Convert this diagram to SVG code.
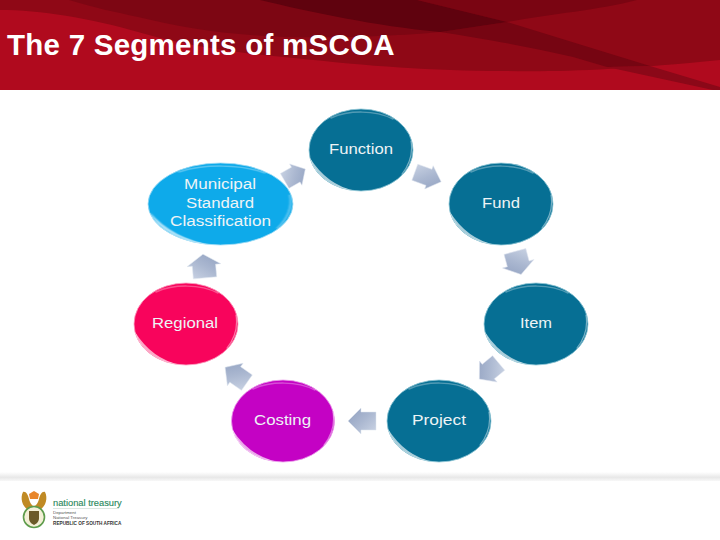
<svg xmlns="http://www.w3.org/2000/svg" width="720" height="540" viewBox="0 0 720 540">
<style>
.lbl{font-family:"Liberation Sans",Arial,sans-serif;font-size:14px;fill:#eef4f6;text-anchor:middle}
.rim{fill:none;stroke:#fff;stroke-linecap:round}
.cres{fill:#fff;fill-opacity:.65}
.arrow{fill:url(#arrowGrad);stroke:#dfe5ef;stroke-width:.5}
</style>
<defs>
<linearGradient id="arrowGrad" x1="0" y1="0" x2="1" y2="1"><stop offset="0" stop-color="#8f9fbf"/><stop offset=".5" stop-color="#aab7d0"/><stop offset="1" stop-color="#ccd5e5"/></linearGradient>
<linearGradient id="foot" x1="0" y1="0" x2="0" y2="1"><stop offset="0" stop-color="#fff"/><stop offset=".6" stop-color="#e8e8e8"/><stop offset="1" stop-color="#f8f8f8"/></linearGradient>
<filter id="soft" x="-20%" y="-20%" width="140%" height="140%"><feGaussianBlur stdDeviation=".6"/></filter>
<path id="arr" d="M-14 0L-1-13V-9H14V9H-1V13Z"/>
<g id="gloss">
<path class="cres" filter="url(#soft)" d="M-51 8A52 41 0 0 0-6 40.700Q-34 35-51 8Z"/>
<path class="rim" filter="url(#soft)" stroke-opacity=".3" stroke-width="1.500" d="M-30-32C-12-40 14-40 32-31"/>
<path class="rim" filter="url(#soft)" stroke-opacity=".45" stroke-width="1.200" d="M50-9C52 3 48 15 41 24"/>
</g>
</defs>
<rect width="720" height="540" fill="#fff"/>
<g id="header">
<rect width="720" height="90" fill="#b00a1e"/>
<path fill="#8f0816" d="M0 10C40 10 90 18 138 32C180 44 225 52 294 58C370 66 430 71 505 71C560 72 620 70 720 60V0H0Z"/>
<path fill="#7d0613" d="M69 0C95 8 115 12 138 17C180 27 225 35 285 37C340 38 400 36 440 32L507 22L417 0Z"/>
<path fill="#7a0512" d="M417 0H637C600 10 550 14 507 22Z"/>
<path fill="#760512" d="M440 32L507 22L650 66L607 67L573 57C530 47 480 38 440 32Z"/>
<path fill="#8b0818" d="M607 67L650 66L720 87V90H713Z"/>
<path fill="#5f020e" d="M260 0C310 12 375 26 440 32L507 22L417 0Z"/>
<text x="7" y="55" font-family="'Liberation Sans',Arial,sans-serif" font-size="29.500" font-weight="bold" letter-spacing=".25" fill="#fff">The 7 Segments of mSCOA</text>
</g>
<rect id="footer-band" y="472" width="720" height="9" fill="url(#foot)"/>
<g id="connectors">
<use href="#arr" class="arrow" transform="translate(428 177) rotate(200) scale(1 .95)"/>
<use href="#arr" class="arrow" transform="translate(518 263) rotate(255) scale(.85 1.250)"/>
<use href="#arr" class="arrow" transform="translate(489 371) rotate(320) scale(.9 1.050)"/>
<use href="#arr" class="arrow" transform="translate(362 421)"/>
<use href="#arr" class="arrow" transform="translate(236 375) rotate(35) scale(.95 1.050)"/>
<use href="#arr" class="arrow" transform="translate(204 266) rotate(85) scale(.85 1.300)"/>
<use href="#arr" class="arrow" transform="translate(295 175) rotate(150) scale(.85 .95)"/>
</g>
<g id="node-function"><ellipse cx="361" cy="150" rx="52" ry="41" fill="#066f94" stroke="#8fc6d6" stroke-width=".8"/><use href="#gloss" transform="translate(361 150)"/><text class="lbl" x="361" y="154" textLength="64" lengthAdjust="spacingAndGlyphs">Function</text></g>
<g id="node-fund"><ellipse cx="501" cy="204" rx="52" ry="41" fill="#066f94" stroke="#8fc6d6" stroke-width=".8"/><use href="#gloss" transform="translate(501 204)"/><text class="lbl" x="501" y="208" textLength="38" lengthAdjust="spacingAndGlyphs">Fund</text></g>
<g id="node-item"><ellipse cx="536" cy="324" rx="52" ry="41" fill="#066f94" stroke="#8fc6d6" stroke-width=".8"/><use href="#gloss" transform="translate(536 324)"/><text class="lbl" x="536" y="328" textLength="32" lengthAdjust="spacingAndGlyphs">Item</text></g>
<g id="node-project"><ellipse cx="439" cy="421" rx="52" ry="41" fill="#066f94" stroke="#8fc6d6" stroke-width=".8"/><use href="#gloss" transform="translate(439 421)"/><text class="lbl" x="439" y="425" textLength="54" lengthAdjust="spacingAndGlyphs">Project</text></g>
<g id="node-costing"><ellipse cx="283" cy="421" rx="51.500" ry="41" fill="#c402c4" stroke="#eca0ec" stroke-width=".8"/><use href="#gloss" transform="translate(283 421)"/><text class="lbl" x="282.500" y="425" textLength="57" lengthAdjust="spacingAndGlyphs">Costing</text></g>
<g id="node-regional"><ellipse cx="186" cy="324" rx="52" ry="41" fill="#f8045c" stroke="#fba0c0" stroke-width=".8"/><use href="#gloss" transform="translate(186 324)"/><text class="lbl" x="185" y="328" textLength="66" lengthAdjust="spacingAndGlyphs">Regional</text></g>
<g id="node-municipal"><ellipse cx="220.500" cy="204" rx="72.500" ry="41" fill="#0eaaea" stroke="#a0dcf5" stroke-width=".8"/><use href="#gloss" transform="translate(220.500 204) scale(1.390 1)"/>
<text class="lbl" x="220" y="189" textLength="72" lengthAdjust="spacingAndGlyphs">Municipal</text><text class="lbl" x="220" y="208" textLength="68" lengthAdjust="spacingAndGlyphs">Standard</text><text class="lbl" x="220.500" y="226" textLength="101" lengthAdjust="spacingAndGlyphs">Classification</text></g>
<g id="logo">
<path fill="#c08a24" d="M23 492C26 491 28 495 29 499C30 503 32 506 34 506C36 506 38 503 39 499C40 495 42 491 45 492C48 498 46 506 40 510H28C22 506 20 498 23 492Z"/>
<path fill="#e8862a" d="M29 494L34 491L39 494L38 499H30Z"/>
<ellipse cx="34" cy="517" rx="10.500" ry="10.500" fill="#f3efd6" stroke="#5e9c4c" stroke-width="1.600"/>
<path fill="#6b5a28" d="M29 511H39V518C39 522 36 524 34 525C32 524 29 522 29 518Z"/>
<text x="53" y="506" font-family="'Liberation Sans',Arial,sans-serif" font-size="9.300" fill="#2c8a60" stroke="#2c8a60" stroke-width=".15">national treasury</text>
<rect x="53" y="508" width="66" height=".6" fill="#c5d8ce"/>
<g font-family="'Liberation Sans',Arial,sans-serif" font-size="4.400" fill="#555"><text x="53" y="514">Department</text><text x="53" y="519">National Treasury</text><text x="53" y="524.500" font-weight="bold" font-size="4.700" fill="#333">REPUBLIC OF SOUTH AFRICA</text></g>
</g>
</svg>
